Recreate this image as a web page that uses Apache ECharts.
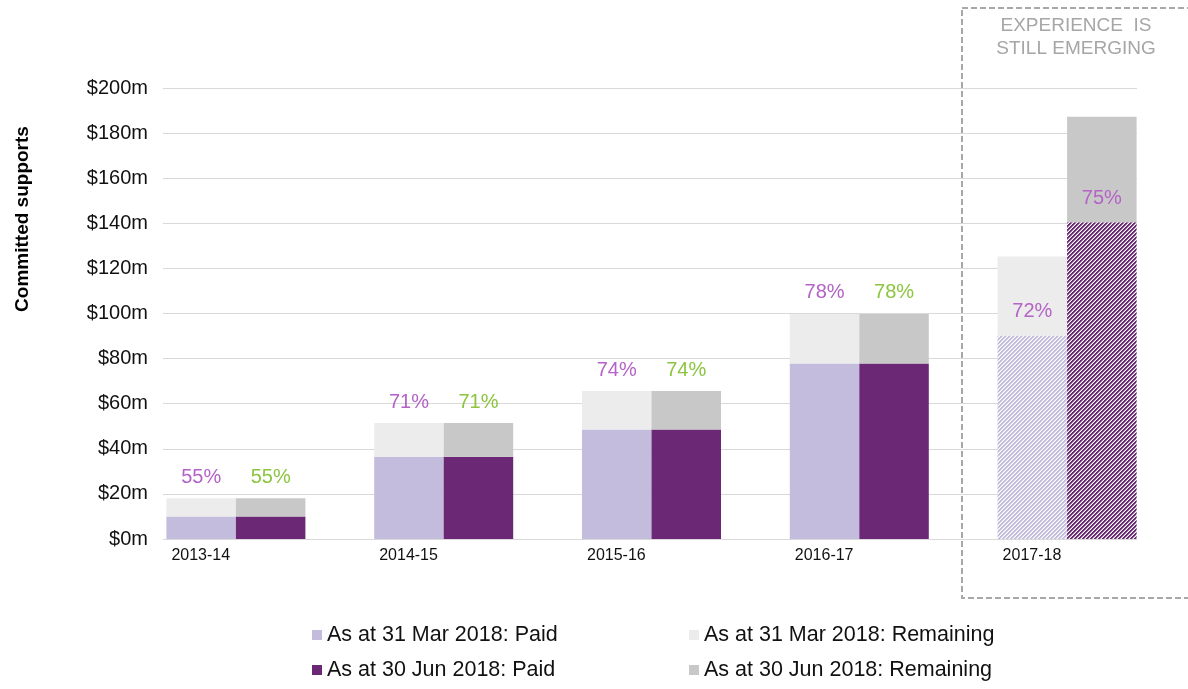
<!DOCTYPE html>
<html>
<head>
<meta charset="utf-8">
<script src="https://cdn.jsdelivr.net/npm/echarts@6/dist/echarts.min.js"></script>
<style>
  html, body { margin: 0; padding: 0; background: #fff; }
  #chart { width: 1188px; height: 689px; }
</style>
</head>
<body>
<div id="chart"></div>
<script>
// Financial years
var years = ['2013-14', '2014-15', '2015-16', '2016-17', '2017-18'];
// Committed supports ($m) as at each date
var totalMar = [18.1, 51.4, 65.6, 99.8, 125.3];
var totalJun = [18.1, 51.4, 65.6, 99.8, 187.3];
// Share of committed supports already paid (%)
var pctMar = [55, 71, 74, 78, 72];
var pctJun = [55, 71, 74, 78, 75];
// Y axis ticks ($m)
var yMin = 0, yMax = 200, yStep = 20;

var FONT = '"Liberation Sans", Arial, sans-serif';
var C_MAR_PAID = '#c3bcdc', C_MAR_REM = '#ececec';
var C_JUN_PAID = '#6b2875', C_JUN_REM = '#c8c8c8';
var C_PCT_PURPLE = '#b463c6', C_PCT_GREEN = '#8cc540';

// Diagonal hatch fill for the latest (still emerging) year
function hatch(color) {
  var n = 8, cv = document.createElement('canvas');
  cv.width = n; cv.height = n;
  var ctx = cv.getContext('2d');
  var img = ctx.createImageData(n, n);
  var r = parseInt(color.substr(1, 2), 16), g = parseInt(color.substr(3, 2), 16), b = parseInt(color.substr(5, 2), 16);
  for (var y = 0; y < n; y++) {
    for (var x = 0; x < n; x++) {
      var k = (x + y) % 4;
      var a = k < 2 ? 1 : (k === 2 ? 0.5 : 0);
      var i = (y * n + x) * 4;
      img.data[i] = Math.round(255 + (r - 255) * a);
      img.data[i + 1] = Math.round(255 + (g - 255) * a);
      img.data[i + 2] = Math.round(255 + (b - 255) * a);
      img.data[i + 3] = 255;
    }
  }
  ctx.putImageData(img, 0, 0);
  return { image: cv, repeat: 'repeat' };
}

var last = years.length - 1;
var paidMar = totalMar.map(function (t, i) { return +(t * pctMar[i] / 100).toFixed(2); });
var paidJun = totalJun.map(function (t, i) { return +(t * pctJun[i] / 100).toFixed(2); });
var remMar = totalMar.map(function (t, i) { return +(t - paidMar[i]).toFixed(2); });
var remJun = totalJun.map(function (t, i) { return +(t - paidJun[i]).toFixed(2); });

var patMar = hatch(C_MAR_PAID), patJun = hatch(C_JUN_PAID);

var pctLabel = { fontFamily: FONT, fontSize: 20 };

function paidData(vals, pat) {
  return vals.map(function (v, i) {
    return i === last ? { value: v, itemStyle: { color: pat } } : v;
  });
}
function remData(vals, pcts, color) {
  return vals.map(function (v, i) {
    if (i === last) {
      return { value: v, label: { position: 'insideBottom', distance: 14, color: C_PCT_PURPLE } };
    }
    return { value: v, label: { color: color } };
  });
}

var BAR_W = 69.5;
var chart = echarts.init(document.getElementById('chart'), null, { renderer: 'canvas' });

chart.setOption({
  animation: false,
  backgroundColor: '#ffffff',
  grid: [
    { left: 163, right: 51, top: 88, bottom: 150 },
    { left: 132, right: 17, top: 88, bottom: 150 }
  ],
  xAxis: [
    { gridIndex: 0, type: 'category', data: years, show: false },
    { gridIndex: 1, type: 'category', data: years,
      axisLine: { show: false }, axisTick: { show: false }, axisLabel: { show: false } }
  ],
  yAxis: [
    { gridIndex: 0, type: 'value', min: yMin, max: yMax, interval: yStep,
      axisLine: { show: false }, axisTick: { show: false },
      splitLine: { lineStyle: { color: '#d9d9d9', width: 1 } },
      axisLabel: { margin: 15, color: '#111', fontFamily: FONT, fontSize: 20,
        formatter: function (v) { return '$' + v + 'm'; } } },
    { gridIndex: 1, type: 'value', min: yMin, max: yMax, interval: yStep, show: false }
  ],
  legend: [
    { left: 312, top: 624, data: ['As at 31 Mar 2018: Paid'] },
    { left: 689, top: 624, data: ['As at 31 Mar 2018: Remaining'] },
    { left: 312, top: 659, data: ['As at 30 Jun 2018: Paid'] },
    { left: 689, top: 659, data: ['As at 30 Jun 2018: Remaining'] }
  ].map(function (l) {
    l.icon = 'rect'; l.itemWidth = 10; l.itemHeight = 10; l.padding = 0;
    l.textStyle = { color: '#111', fontFamily: FONT, fontSize: 21.5 };
    l.selectedMode = false;
    return l;
  }),
  series: [
    { name: 'As at 31 Mar 2018: Paid', type: 'bar', stack: 'mar', xAxisIndex: 1, yAxisIndex: 1,
      barWidth: BAR_W, barGap: '0%', itemStyle: { color: C_MAR_PAID },
      data: paidData(paidMar, patMar),
      label: { show: true, position: [5, '100%'], offset: [0, 9], align: 'left', verticalAlign: 'top',
        color: '#111', fontFamily: FONT, fontSize: 16, formatter: '{b}' } },
    { name: 'As at 31 Mar 2018: Remaining', type: 'bar', stack: 'mar', xAxisIndex: 1, yAxisIndex: 1,
      barWidth: BAR_W, barGap: '0%', itemStyle: { color: C_MAR_REM },
      data: remData(remMar, pctMar, C_PCT_PURPLE),
      label: Object.assign({ show: true, position: 'top', distance: 11,
        formatter: function (p) { return pctMar[p.dataIndex] + '%'; } }, pctLabel) },
    { name: 'As at 30 Jun 2018: Paid', type: 'bar', stack: 'jun', xAxisIndex: 1, yAxisIndex: 1,
      barWidth: BAR_W, barGap: '0%', itemStyle: { color: C_JUN_PAID },
      data: paidData(paidJun, patJun) },
    { name: 'As at 30 Jun 2018: Remaining', type: 'bar', stack: 'jun', xAxisIndex: 1, yAxisIndex: 1,
      barWidth: BAR_W, barGap: '0%', itemStyle: { color: C_JUN_REM },
      data: remData(remJun, pctJun, C_PCT_GREEN),
      label: Object.assign({ show: true, position: 'top', distance: 11,
        formatter: function (p) { return pctJun[p.dataIndex] + '%'; } }, pctLabel) }
  ],
  graphic: [
    { type: 'text', x: 23, y: 219, rotation: Math.PI / 2,
      style: { text: 'Committed supports', fill: '#000', font: 'bold 19px ' + FONT,
        textAlign: 'center', textVerticalAlign: 'middle' } },
    { type: 'rect', shape: { x: 962, y: 8, width: 260, height: 590 },
      style: { fill: 'none', stroke: '#a8a8a8', lineWidth: 2, lineDash: [6, 3] } },
    { type: 'text', x: 1076, y: 26,
      style: { text: 'EXPERIENCE  IS', fill: '#a6a6a6', font: '19px ' + FONT,
        textAlign: 'center', textVerticalAlign: 'middle' } },
    { type: 'text', x: 1076, y: 49,
      style: { text: 'STILL EMERGING', fill: '#a6a6a6', font: '19px ' + FONT,
        textAlign: 'center', textVerticalAlign: 'middle' } }
  ]
});
</script>
</body>
</html>
